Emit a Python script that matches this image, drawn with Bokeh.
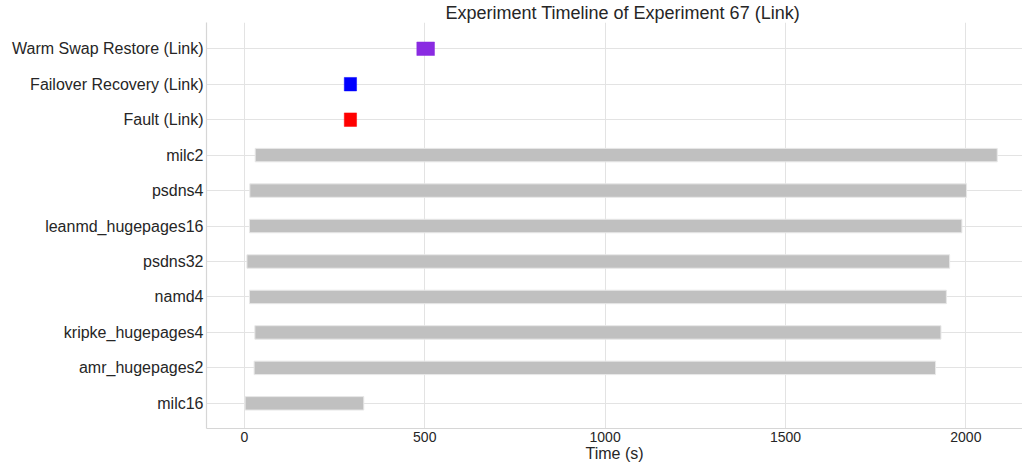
from bokeh.plotting import figure
from bokeh.models import Range1d, FixedTicker, ColumnDataSource
from bokeh.embed import file_html
from bokeh.resources import INLINE

# categories top to bottom
jobs = ["milc2", "psdns4", "leanmd_hugepages16", "psdns32", "namd4",
        "kripke_hugepages4", "amr_hugepages2", "milc16"]
job_start = [30, 15, 14, 7, 14, 29, 27, 2]
job_end = [2087, 2002, 1989, 1955, 1946, 1931, 1916, 331]

events = ["Warm Swap Restore (Link)", "Failover Recovery (Link)", "Fault (Link)"]
event_start = [478, 277, 277]
event_end = [527, 311, 311]
event_colors = ["#8a2be2", "#0000ff", "#ff0000"]

x_ticks = [0, 500, 1000, 1500, 2000]

categories = events + jobs           # top to bottom
n = len(categories)
ypos = {c: n - 1 - i for i, c in enumerate(categories)}

TEXT = "#262626"
FONT = "Liberation Sans"

p = figure(width=1022, height=464, output_backend="svg", toolbar_location=None,
           x_range=Range1d(-105, 2157), y_range=Range1d(-0.71, 10.74),
           min_border_left=206, min_border_right=0, min_border_top=22, min_border_bottom=4)

p.title.text = "Experiment Timeline of Experiment 67 (Link)"
p.title.text_font = FONT
p.title.text_font_size = "18px"
p.title.text_font_style = "normal"
p.title.text_color = TEXT
p.title.align = "left"
p.title.offset = 239
p.title.standoff = 0

job_src = ColumnDataSource(dict(y=[ypos[j] for j in jobs], left=job_start, right=job_end))
p.hbar(y="y", left="left", right="right", height=0.38, source=job_src,
       fill_color="#c0c0c0", line_color="#e8e8e8", line_width=1)

ev_src = ColumnDataSource(dict(y=[ypos[e] for e in events], left=event_start,
                               right=event_end, color=event_colors))
p.hbar(y="y", left="left", right="right", height=0.38, source=ev_src,
       fill_color="color", line_color="color", line_alpha=0.5, line_width=1)

p.yaxis.ticker = FixedTicker(ticks=list(range(n)))
p.yaxis.major_label_overrides = {ypos[c]: c for c in categories}
p.xaxis.ticker = FixedTicker(ticks=x_ticks)
p.xaxis.axis_label = "Time (s)"

for ax in (p.xaxis[0], p.yaxis[0]):
    ax.major_label_text_font = FONT
    ax.major_label_text_color = TEXT
    ax.axis_label_text_font = FONT
    ax.axis_label_text_color = TEXT
    ax.axis_label_text_font_style = "normal"
    ax.axis_label_text_font_size = "16px"
    ax.axis_label_standoff = 0
    ax.major_tick_out = 0
    ax.major_tick_in = 0
    ax.minor_tick_out = 0
    ax.minor_tick_in = 0
    ax.major_tick_line_color = None
    ax.minor_tick_line_color = None
    ax.axis_line_color = "#d6d6d6"
    ax.axis_line_width = 1.2
p.yaxis.major_label_standoff = 3
p.xaxis.major_label_standoff = 3
p.yaxis.major_label_text_font_size = "16px"
p.xaxis.major_label_text_font_size = "14px"

p.xgrid.grid_line_color = "#e3e3e3"
p.ygrid.grid_line_color = "#e3e3e3"
p.ygrid.ticker = FixedTicker(ticks=list(range(n)))
p.xgrid.ticker = FixedTicker(ticks=x_ticks)
p.outline_line_color = None
p.background_fill_color = "white"
p.border_fill_color = "white"

open("out.html", "w").write(file_html(p, INLINE))
